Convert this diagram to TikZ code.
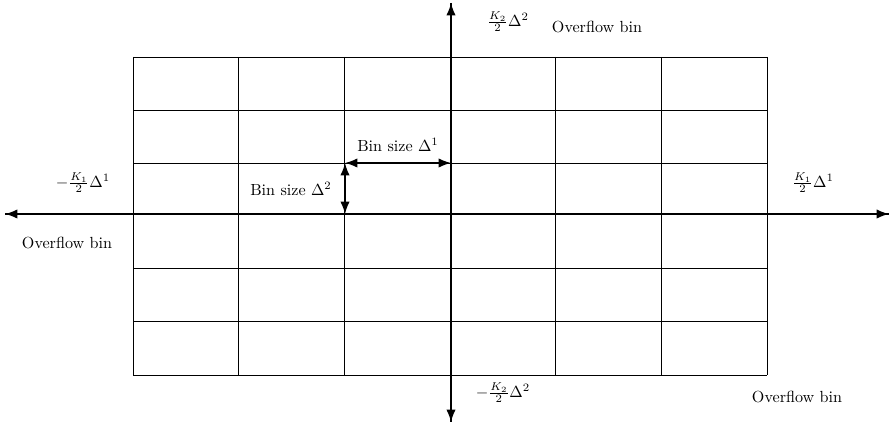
\documentclass[tikz,border=0pt]{standalone}
\usepackage{amsmath,amssymb}
\usetikzlibrary{arrows.meta,positioning,calc}

\begin{document}
\begin{tikzpicture}[>=Latex,x=0.0218cm,y=-0.0218cm]
      \useasboundingbox (0,0) rectangle (889,429);
      % grid of bins
      \foreach \i in {0,...,6}
        \draw[line width=0.6pt] (133+105.67*\i,57) -- (133+105.67*\i,375);
      \foreach \y in {57,110,163,214,268,321,375}
        \draw[line width=0.6pt] (133,\y) -- (767,\y);
      % axes
      \coordinate (west) at (5,214);
      \coordinate (east) at (889,214);
      \coordinate (north) at (451,3);
      \coordinate (south) at (451,422);
      \draw[line width=0.8pt,-{Latex[length=2.7mm]}] (east) -- (west);
      \draw[line width=0.8pt,-{Latex[length=2.7mm]}] (west) -- (east);
      \draw[line width=0.8pt,-{Latex[length=2.7mm]}] (south) -- (north);
      \draw[line width=0.8pt,-{Latex[length=2.7mm]}] (north) -- (south);
      % bin sizes
      \coordinate (c0) at (345,163);
      \coordinate (c1) at (451,163);
      \coordinate (c2) at (345,214);
      \draw[line width=0.8pt,{Latex[length=2.7mm]}-{Latex[length=2.7mm]}] (c0) -- (c1);
      \draw[line width=0.8pt,{Latex[length=2.7mm]}-{Latex[length=2.7mm]}] (c0) -- (c2);
      \node (d1) at (398,145) {Bin size \(\Delta^1\)};
      \node (d2) at (291,189) {Bin size \(\Delta^2\)};
      % axis labels
      \node (kwest) at (83,183) {\(-\frac{K_1}{2}\Delta^1\)};
      \node (owest) at (67,243) {Overflow bin};
      \node (keast) at (813,183) {\(\frac{K_1}{2}\Delta^1\)};
      \node (knorth) at (508,22) {\(\frac{K_2}{2}\Delta^2\)};
      \node (onorth) at (597,27) {Overflow bin};
      \node (ksouth) at (503,393) {\(-\frac{K_2}{2}\Delta^2\)};
      \node (osouth) at (797,397) {Overflow bin};
    \end{tikzpicture}
\end{document}
